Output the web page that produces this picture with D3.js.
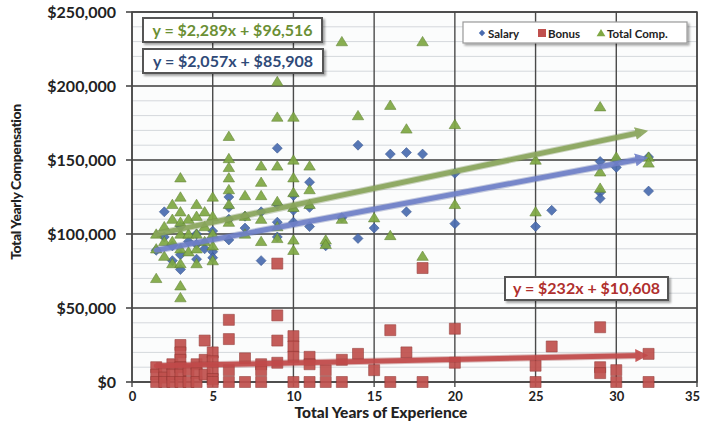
<!DOCTYPE html>
<html><head><meta charset="utf-8">
<script src="https://cdn.jsdelivr.net/npm/d3@7"></script>
<style>
body{margin:0;background:#fff;}
svg{display:block;font-family:Lato,"Open Sans",sans-serif;}
</style></head>
<body><svg id="c" width="702" height="428"></svg>
<script>
// ---- data (years of experience, $ thousands) ----
const salaryX = [1.5,2,2,2.5,2.5,3,3,3,3.5,4,4,4,4.5,5,5,5,6,6,6,6,7,7,8,8,9,9,9,9,10,10,10,11,11,11,12,13,14,14,15,16,17,17,18,20,20,25,26,29,29,29,30,30,32,32];
const salaryY = [89,115,98,92,82,105,86,76,95,100,93,83,90,102,88,84,125,118,110,96,112,104,115,82,158,120,108,98,126,116,108,118,105,135,92,111,160,97,104,154,155,115,154,141,107,105,116,149,128,124,145,150,152,129];
const bonusX = [1.5,1.5,1.5,2,2,2,2.5,2.5,2.5,3,3,3,3,3,3,3.5,3.5,4,4,4,4.5,4.5,4.5,5,5,5,5,5,6,6,6,6,7,7,8,8,8,9,9,9,9,10,10,10,10,11,11,11,12,12,13,13,14,15,16,16,17,18,18,20,20,25,25,26,29,29,29,30,30,32,32];
const bonusY = [10,5,0,8,3,0,12,5,0,25,20,15,10,5,0,8,0,12,6,0,28,15,5,20,14,8,2,0,42,29,8,0,16,0,12,8,0,80,45,28,13,31,24,17,0,17,12,0,8,0,15,0,19,8,35,0,20,77,0,36,13,11,0,24,37,10,6,8,0,19,0];
const totalX = [1.5,1.5,1.5,2,2,2,2.5,2.5,2.5,2.5,3,3,3,3,3,3,3,3,3,3.5,3.5,3.5,4,4,4,4,4,4.5,4.5,4.5,5,5,5,5,5,6,6,6,6,6,6,6,7,7,7,8,8,8,8,8,9,9,9,9,9,9,10,10,10,10,10,10,10,11,11,11,12,12,13,13,14,15,16,16,17,18,18,20,20,25,25,29,29,29,30,32,32];
const totalY = [100,90,70,105,95,85,120,110,95,80,138,125,115,108,100,90,80,65,57,110,100,88,120,112,100,90,80,115,105,95,125,112,100,92,82,166,151,145,138,130,120,108,126,112,100,146,135,126,110,95,203,179,146,122,105,97,179,150,138,128,118,96,89,146,130,120,96,93,230,110,180,111,187,99,171,230,85,174,120,150,115,186,142,131,152,152,148];
const seriesNames = ["Salary","Bonus","Total Comp."];
const trendSlope = [2.057,0.232,2.289];      // $ thousands per year
const trendIntercept = [85.908,10.608,96.516];
const trendLabels = ["y = $2,057x + $85,908","y = $232x + $10,608","y = $2,289x + $96,516"];
const xTicks = [0,5,10,15,20,25,30,35];
const yTicks = [0,50,100,150,200,250];
const yMinor = d3.range(0,251,10);

// ---- layout ----
const svg = d3.select("#c");
const L=132,R=697,T=12,B=382;
const x = d3.scaleLinear().domain([0,35]).range([L,R]);
const y = d3.scaleLinear().domain([0,250]).range([B,T]);
const fmt = v => "$" + d3.format(",")(v*1000);

const defs = svg.append("defs");
const sh = defs.append("filter").attr("id","sh").attr("x","-10%").attr("y","-20%").attr("width","130%").attr("height","160%");
sh.append("feDropShadow").attr("dx",2).attr("dy",2).attr("stdDeviation",1.2).attr("flood-color","#000").attr("flood-opacity",0.35);

// plot bg
svg.append("rect").attr("x",L).attr("y",T).attr("width",R-L).attr("height",B-T).attr("fill","#fbfcfc");

// minor gridlines
svg.append("g").selectAll("line").data(yMinor.filter(v=>v%50!==0)).join("line")
  .attr("x1",L).attr("x2",R).attr("y1",d=>y(d)).attr("y2",d=>y(d))
  .attr("stroke","#d4d8dc").attr("stroke-width",1);

// major gridlines
svg.append("g").selectAll("line").data(yTicks).join("line")
  .attr("x1",L-6).attr("x2",R).attr("y1",d=>y(d)).attr("y2",d=>y(d))
  .attr("stroke","#3c3c3c").attr("stroke-width",1.6);
svg.append("g").selectAll("line").data(xTicks).join("line")
  .attr("x1",d=>x(d)).attr("x2",d=>x(d)).attr("y1",T).attr("y2",B+5)
  .attr("stroke","#4a4a4a").attr("stroke-width",1.4);
svg.append("rect").attr("x",L).attr("y",T).attr("width",R-L).attr("height",B-T).attr("fill","none").attr("stroke","#444").attr("stroke-width",1.5);

// axes labels
const yAxis = d3.axisLeft(y).tickValues(yTicks).tickFormat(fmt).tickSize(0).tickPadding(16);
const gy = svg.append("g").attr("transform",`translate(${L},0)`).call(yAxis);
gy.select(".domain").remove();
gy.selectAll("text").attr("font-size",16).attr("font-weight",700).attr("fill","#222").attr("font-family","Lato");
const xAxis = d3.axisBottom(x).tickValues(xTicks).tickFormat(d3.format("d")).tickSize(0).tickPadding(10);
const gx = svg.append("g").attr("transform",`translate(0,${B})`).call(xAxis);
gx.select(".domain").remove();
gx.selectAll("text").attr("font-size",13).attr("font-weight",700).attr("fill","#222").attr("font-family","Lato")
  .attr("dx",d=>d===35?-5:0);

svg.append("text").attr("x",381).attr("y",418).attr("text-anchor","middle")
  .attr("font-size",15.5).attr("font-weight",900).attr("fill","#222").text("Total Years of Experience");
svg.append("text").attr("transform","translate(21,182) rotate(-90)").attr("text-anchor","middle")
  .attr("font-size",14).attr("font-weight",900).attr("fill","#222").attr("letter-spacing",-0.4).text("Total Yearly Compensation");

// markers
const colors = ["#4a6cb0","#c0504d","#7fa843"];
const edge = ["#2f4f8a","#8f3431","#5b7d2c"];
function diamond(cx,cy,r){return `M${cx},${cy-r}L${cx+r},${cy}L${cx},${cy+r}L${cx-r},${cy}Z`;}
function square(cx,cy,r){return `M${cx-r},${cy-r}h${2*r}v${2*r}h${-2*r}Z`;}
function tri(cx,cy,r){return `M${cx},${cy-r}L${cx+r*1.1},${cy+r*0.8}L${cx-r*1.1},${cy+r*0.8}Z`;}

const series = [
  {xs:salaryX, ys:salaryY, shape:diamond, r:5},
  {xs:bonusX, ys:bonusY, shape:square, r:5.5},
  {xs:totalX, ys:totalY, shape:tri, r:5.2}
];
const order=[1,0,2];
order.forEach(i=>{
  const s=series[i];
  svg.append("g").selectAll("path").data(s.xs.map((v,k)=>[v,s.ys[k]])).join("path")
    .attr("d",d=>s.shape(x(d[0]),y(d[1]),s.r))
    .attr("fill",colors[i]).attr("stroke",edge[i]).attr("stroke-width",0.6).attr("opacity",0.92);
});

// trend lines
const trendCol = ["#6f80c9","#c24a4a","#8aa65c"];
[1,0,2].forEach(i=>{
  const xs = series[i].xs;
  const x0=d3.min(xs), x1=d3.max(xs);
  const m = defs.append("marker").attr("id","arr"+i).attr("viewBox","0 0 10 10").attr("refX",4).attr("refY",5)
    .attr("markerWidth",2.6).attr("markerHeight",2.6).attr("orient","auto");
  m.append("path").attr("d","M0,0L10,5L0,10Z").attr("fill",trendCol[i]);
  const line = d3.line().x(d=>x(d)).y(d=>y(trendIntercept[i]+trendSlope[i]*d));
  svg.append("path").attr("d",line([x0,x1-0.5])).attr("fill","none")
    .attr("stroke",d3.color(trendCol[i]).darker(0.6)).attr("stroke-width",7).attr("opacity",0.35);
  svg.append("path").attr("d",line([x0,x1-0.5])).attr("fill","none")
    .attr("stroke",trendCol[i]).attr("stroke-width",5).attr("stroke-linecap","round").attr("opacity",0.9)
    .attr("marker-end",`url(#arr${i})`);
});

// equation labels
const eqPos = [[143,49,180,24],[505,277,163,23],[143,18,179,24]];
const eqCol = ["#2f4a78","#b0302e","#6b8f34"];
[2,0,1].forEach(i=>{
  const [bx,by,bw,bh]=eqPos[i];
  svg.append("rect").attr("x",bx).attr("y",by).attr("width",bw).attr("height",bh)
    .attr("fill","#fff").attr("stroke","#555").attr("stroke-width",2).attr("filter","url(#sh)");
  svg.append("text").attr("x",bx+bw/2).attr("y",by+bh/2+5.5).attr("text-anchor","middle")
    .attr("font-size",16).attr("font-weight",700).attr("fill",eqCol[i]).text(trendLabels[i]);
});

// legend
const lg = svg.append("g");
lg.append("rect").attr("x",463).attr("y",22).attr("width",224).attr("height",21)
  .attr("fill","#fff").attr("stroke","#999").attr("stroke-width",1.2).attr("filter","url(#sh)");
const legX=[482,542,601];
seriesNames.forEach((n,i)=>{
  const shp=[diamond,square,tri][i];
  lg.append("path").attr("d",shp(legX[i],33,[3.2,4,4][i])).attr("fill",colors[i]);
  lg.append("text").attr("x",legX[i]+6).attr("y",37.5).attr("font-size",11.5).attr("font-weight",700)
    .attr("fill","#222").text(n);
});
</script></body></html>
